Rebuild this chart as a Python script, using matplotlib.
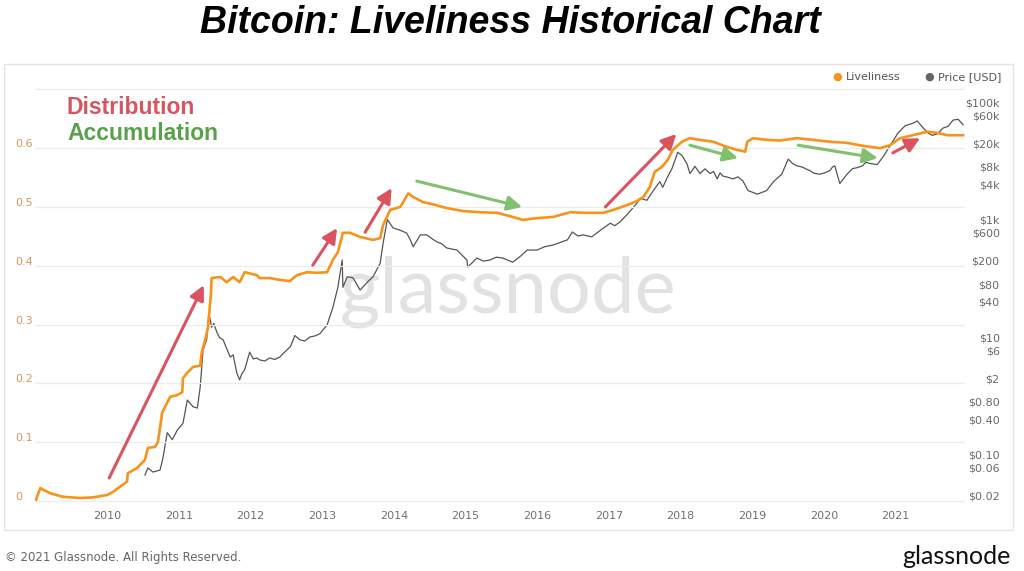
import matplotlib
matplotlib.use("Agg")
import matplotlib.pyplot as plt
from matplotlib.patches import Rectangle
from matplotlib.transforms import ScaledTranslation
import numpy as np

# ---------------- data ----------------
live_years = [2009.01, 2009.07, 2009.11, 2009.21, 2009.39, 2009.62, 2009.80, 2010.00,
              2010.08, 2010.18, 2010.28, 2010.29, 2010.42, 2010.53, 2010.57, 2010.67,
              2010.71, 2010.77, 2010.81, 2010.88, 2010.98, 2011.05, 2011.06, 2011.12,
              2011.20, 2011.30, 2011.32, 2011.37, 2011.41, 2011.45, 2011.46, 2011.58,
              2011.67, 2011.76, 2011.85, 2011.92, 2012.09, 2012.13, 2012.27, 2012.41,
              2012.55, 2012.65, 2012.79, 2012.93, 2013.07, 2013.15, 2013.22, 2013.29,
              2013.39, 2013.53, 2013.71, 2013.81, 2013.85, 2013.95, 2014.09, 2014.13,
              2014.20, 2014.27, 2014.41, 2014.50, 2014.74, 2014.97, 2015.20, 2015.44,
              2015.66, 2015.80, 2016.00, 2016.22, 2016.46, 2016.69, 2016.92, 2017.06,
              2017.25, 2017.39, 2017.48, 2017.57, 2017.64, 2017.74, 2017.82, 2017.89,
              2018.02, 2018.13, 2018.27, 2018.45, 2018.65, 2018.79, 2018.90, 2018.93,
              2019.01, 2019.20, 2019.39, 2019.62, 2019.85, 2020.08, 2020.32, 2020.54,
              2020.78, 2020.92, 2021.06, 2021.24, 2021.44, 2021.58, 2021.72, 2021.94]
liveliness = [0.002, 0.022, 0.019, 0.013, 0.007, 0.005, 0.006, 0.010,
              0.015, 0.024, 0.033, 0.047, 0.056, 0.070, 0.090, 0.092,
              0.100, 0.150, 0.160, 0.177, 0.180, 0.185, 0.209, 0.218,
              0.228, 0.230, 0.252, 0.274, 0.296, 0.354, 0.379, 0.381,
              0.372, 0.381, 0.372, 0.389, 0.384, 0.379, 0.379, 0.376,
              0.374, 0.384, 0.389, 0.388, 0.389, 0.410, 0.423, 0.456,
              0.456, 0.449, 0.444, 0.447, 0.469, 0.495, 0.500, 0.508,
              0.523, 0.517, 0.508, 0.506, 0.498, 0.493, 0.491, 0.490,
              0.483, 0.478, 0.481, 0.483, 0.491, 0.490, 0.490, 0.495,
              0.503, 0.510, 0.517, 0.534, 0.560, 0.568, 0.580, 0.597,
              0.611, 0.617, 0.614, 0.611, 0.602, 0.597, 0.594, 0.611,
              0.617, 0.614, 0.613, 0.617, 0.614, 0.611, 0.609, 0.604,
              0.600, 0.605, 0.617, 0.622, 0.628, 0.626, 0.622, 0.622]

price_years = [2010.53, 2010.57, 2010.64, 2010.74, 2010.78, 2010.84, 2010.91, 2010.98,
               2011.06, 2011.12, 2011.20, 2011.26, 2011.30, 2011.34, 2011.39, 2011.42,
               2011.46, 2011.49, 2011.53, 2011.57, 2011.62, 2011.66, 2011.72, 2011.76,
               2011.81, 2011.85, 2011.88, 2011.92, 2011.99, 2012.04,
               2012.09, 2012.13, 2012.20, 2012.27, 2012.34, 2012.41, 2012.46, 2012.51,
               2012.56, 2012.62, 2012.69, 2012.76, 2012.83, 2012.90,
               2012.97, 2013.07, 2013.15, 2013.22, 2013.28, 2013.29, 2013.35, 2013.43,
               2013.53, 2013.63, 2013.71, 2013.81, 2013.85, 2013.91, 2013.99, 2014.09,
               2014.18, 2014.23, 2014.27, 2014.37, 2014.46, 2014.53, 2014.60, 2014.67,
               2014.74, 2014.88, 2015.02, 2015.03, 2015.16, 2015.25, 2015.34, 2015.43,
               2015.52, 2015.66, 2015.78, 2015.86, 2016.00, 2016.10,
               2016.22, 2016.42, 2016.49, 2016.57, 2016.64, 2016.76, 2016.88, 2017.02,
               2017.08, 2017.15, 2017.25, 2017.39, 2017.43, 2017.53, 2017.62, 2017.71,
               2017.75, 2017.81, 2017.88, 2017.96, 2018.02, 2018.09, 2018.13, 2018.20,
               2018.27, 2018.34, 2018.41, 2018.46, 2018.51, 2018.55, 2018.59, 2018.66,
               2018.73, 2018.80, 2018.87, 2018.94, 2019.07, 2019.20, 2019.29, 2019.41,
               2019.50, 2019.56, 2019.62, 2019.70, 2019.80, 2019.86, 2019.94, 2020.01,
               2020.08, 2020.12, 2020.15, 2020.22, 2020.32, 2020.40, 2020.46, 2020.54,
               2020.58, 2020.64, 2020.74, 2020.82, 2020.92, 2021.03, 2021.13, 2021.24,
               2021.30, 2021.37, 2021.44, 2021.51, 2021.58, 2021.66, 2021.73, 2021.80,
               2021.87, 2021.94]
price_usd = [0.055, 0.073, 0.062, 0.067, 0.107, 0.29, 0.22, 0.32,
             0.42, 1.04, 0.80, 0.76, 1.74, 7.4, 11, 31,
             18, 21, 15, 12, 11, 8.3, 5.6, 6.1,
             3.0, 2.3, 2.9, 3.4, 6.8, 5.2,
             5.4, 5.0, 4.8, 5.4, 5.1, 5.6, 6.5, 7.4,
             8.5, 13, 11, 10.5, 12.3, 12.8,
             14, 19.7, 39, 86, 250, 86, 130, 125,
             77, 105, 130, 220, 480, 1220, 880, 800,
             720, 550, 420, 670, 670, 580, 510, 470,
             400, 370, 250, 190, 270, 240, 250, 280,
             270, 230, 300, 370, 370, 420,
             450, 550, 750, 640, 670, 620, 800, 1060,
             960, 1100, 1470, 2300, 2800, 2600, 3800, 5400,
             4300, 6200, 9000, 17000, 15000, 10700, 7400, 9800,
             7400, 8900, 7400, 8000, 6000, 7600, 6700, 6400,
             6000, 6500, 5500, 3800, 3300, 3800, 5300, 7200,
             13000, 11000, 10000, 9500, 8300, 7500, 7200, 7600,
             8300, 9600, 10000, 5000, 7200, 9000, 9300, 10000,
             11500, 11000, 10500, 14000, 22000, 36000, 48000, 53000,
             58000, 46000, 37000, 33000, 35000, 44000, 47000, 60000,
             62000, 50000]

year_ticks = list(range(2010, 2022))
live_ticks = [0, 0.1, 0.2, 0.3, 0.4, 0.5, 0.6]
live_tick_labels = ["0", "0.1", "0.2", "0.3", "0.4", "0.5", "0.6"]
price_ticks = [0.02, 0.06, 0.10, 0.40, 0.80, 2, 6, 10, 40, 80, 200, 600,
               1000, 4000, 8000, 20000, 60000, 100000]
price_tick_labels = ["$0.02", "$0.06", "$0.10", "$0.40", "$0.80", "$2", "$6", "$10",
                     "$40", "$80", "$200", "$600", "$1k", "$4k", "$8k", "$20k",
                     "$60k", "$100k"]

# annotation arrows: (start_year, start_live, end_year, end_live)
red_arrows = [(2010.03, 0.039, 2011.35, 0.367),
              (2012.87, 0.401, 2013.21, 0.464),
              (2013.60, 0.457, 2013.97, 0.532),
              (2016.95, 0.500, 2017.94, 0.624),
              (2020.96, 0.592, 2021.34, 0.617)]
green_arrows = [(2014.32, 0.544, 2015.79, 0.500),
                (2018.13, 0.605, 2018.80, 0.583),
                (2019.64, 0.605, 2020.75, 0.583)]

# ---------------- figure ----------------
W, H = 1024, 571
fig = plt.figure(figsize=(W / 100, H / 100), dpi=100)
fig.patch.set_facecolor("white")

def fx(px):
    return px / W

def fy(py):
    return 1 - py / H

# panel border
fig.patches.append(Rectangle((fx(4), fy(530)), fx(1013) - fx(4), fy(64) - fy(530),
                             transform=fig.transFigure, facecolor="white",
                             edgecolor="#e4e4e4", lw=1.0, zorder=-5))

ax_left, ax_right = 35, 965
ax_top, ax_bot = 87, 508
ax = fig.add_axes([fx(ax_left), fy(ax_bot), fx(ax_right) - fx(ax_left), fy(ax_top) - fy(ax_bot)])
ax.set_facecolor("none")

ylo, yhi = -0.012, 0.704
ax.set_ylim(ylo, yhi)
ax.set_xlim(2008.996, 2021.966)

ax2 = ax.twinx()
ax2.set_yscale("log")
ax2.set_ylim(0.02 * 10 ** (10 * ylo), 0.02 * 10 ** (10 * yhi))
ax2.patch.set_visible(False)

# gridlines
for g in [0, 0.1, 0.2, 0.3, 0.4, 0.5, 0.6, 0.7]:
    ax.axhline(g, color="#ececec", lw=0.9, zorder=0)

for a in (ax, ax2):
    for s in a.spines.values():
        s.set_visible(False)

# watermark
fig.text(fx(508), fy(292), "glassnode", fontsize=56, color="#e2e2e2",
         family="Lato", ha="center", va="center", zorder=1)

# series
ax2.plot(price_years, price_usd, color="#555555", lw=0.9, zorder=3)
ax.plot(live_years, liveliness, color="#f7931a", lw=1.9, zorder=4)
ax2.set_zorder(2)
ax.set_zorder(3)

# ticks
ax.set_xticks(year_ticks)
ax.set_xticklabels([str(y) for y in year_ticks])
ax.tick_params(axis="x", length=0, pad=2, labelsize=8, labelcolor="#707070")
ax.set_yticks(live_ticks)
ax.set_yticklabels(live_tick_labels)
ax.tick_params(axis="y", length=0, pad=14, labelsize=8, labelcolor="#d8965e")
off = ScaledTranslation(0, 5 / 100, fig.dpi_scale_trans)
for lab in ax.get_yticklabels():
    lab.set_horizontalalignment("left")
    lab.set_transform(lab.get_transform() + off)

ax2.set_yticks(price_ticks)
ax2.set_yticklabels(price_tick_labels)
ax2.minorticks_off()
ax2.tick_params(axis="y", length=0, pad=25, labelsize=8, labelcolor="#6a6a6a")
for lab in ax2.get_yticklabels():
    lab.set_horizontalalignment("right")
    lab.set_transform(lab.get_transform() + off)

# arrows
red = "#d9545e"
green = "#80c06f"
for x0, y0, x1, y1 in red_arrows:
    ax.annotate("", xy=(x1, y1), xytext=(x0, y0),
                arrowprops=dict(arrowstyle="-|>", color=red, lw=2.2,
                                mutation_scale=22, shrinkA=0, shrinkB=0), zorder=6)
for x0, y0, x1, y1 in green_arrows:
    ax.annotate("", xy=(x1, y1), xytext=(x0, y0),
                arrowprops=dict(arrowstyle="-|>", color=green, lw=2.2,
                                mutation_scale=22, shrinkA=0, shrinkB=0), zorder=6)

# labels
fig.text(fx(67), fy(108), "Distribution", fontsize=16.5, fontweight="bold",
         color="#d9545e", family="Liberation Sans", va="center", ha="left")
fig.text(fx(67), fy(133), "Accumulation", fontsize=16.5, fontweight="bold",
         color="#5aa04a", family="Liberation Sans", va="center", ha="left")

# legend
fig.text(fx(837), fy(77), "\u25CF", fontsize=8, color="#f7931a", va="center", ha="center")
fig.text(fx(846), fy(77), "Liveliness", fontsize=8, color="#555555", va="center", ha="left")
fig.text(fx(929), fy(77), "\u25CF", fontsize=8, color="#666666", va="center", ha="center")
fig.text(fx(938), fy(77), "Price [USD]", fontsize=8, color="#555555", va="center", ha="left")

# title
fig.text(fx(510), fy(23), "Bitcoin: Liveliness Historical Chart", fontsize=27,
         fontweight="bold", fontstyle="italic", family="Liberation Sans",
         ha="center", va="center", color="black")

# footer
fig.text(fx(5), fy(557), "\u00A9 2021 Glassnode. All Rights Reserved.", fontsize=8.5,
         color="#666666", ha="left", va="center")
fig.text(fx(1011), fy(556), "glassnode", fontsize=18, color="#111111", family="Lato",
         ha="right", va="center")

fig.savefig("out.png", dpi=100)
